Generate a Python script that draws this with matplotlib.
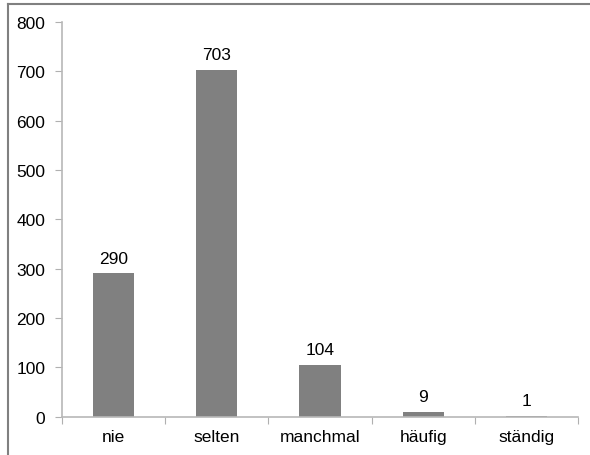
import matplotlib.pyplot as plt
from matplotlib.lines import Line2D

plt.rcParams['font.family'] = ['Liberation Sans', 'DejaVu Sans']

kategorien = ['nie', 'selten', 'manchmal', 'häufig', 'ständig']
werte = [290, 703, 104, 9, 1]

fs = 12.5
fig = plt.figure(figsize=(5.9, 4.56), dpi=100)
ax = fig.add_axes([0.105, 0.0844, 0.875, 0.8652])

x = list(range(len(kategorien)))
ax.bar(x, werte, width=0.4, color='#808080')
for xi, v in zip(x, werte):
    ax.text(xi, v + 16, str(v), ha='center', va='bottom', fontsize=fs, color='black')

ax.set_xlim(-0.5, len(kategorien) - 0.5)
ax.set_ylim(0, 800)
ax.set_yticks(range(0, 801, 100))
ax.set_xticks([i + 0.5 for i in range(-1, len(kategorien))], minor=False)
ax.set_xticklabels([])
ax.set_xticks(x, minor=True)
ax.set_xticklabels(kategorien, minor=True)
ax.tick_params(axis='x', which='minor', length=0, pad=9, labelsize=fs)
ax.tick_params(axis='x', which='major', length=5, color='#b0b0b0', direction='out')
ax.tick_params(axis='y', length=5, color='#b0b0b0', labelsize=fs, pad=7)

for s in ['top', 'right']:
    ax.spines[s].set_visible(False)
for s in ['left', 'bottom']:
    ax.spines[s].set_color('#b8b8b8')
    ax.spines[s].set_linewidth(1.2)

# Rahmen (nur oben und links sichtbar)
fig.add_artist(Line2D([7.5/590, 7.5/590], [0, 1 - 4.5/456], transform=fig.transFigure, color='#808080', lw=1.5))
fig.add_artist(Line2D([7.5/590, 1], [1 - 4.5/456, 1 - 4.5/456], transform=fig.transFigure, color='#808080', lw=1.5))

fig.savefig('out.png', dpi=100)
